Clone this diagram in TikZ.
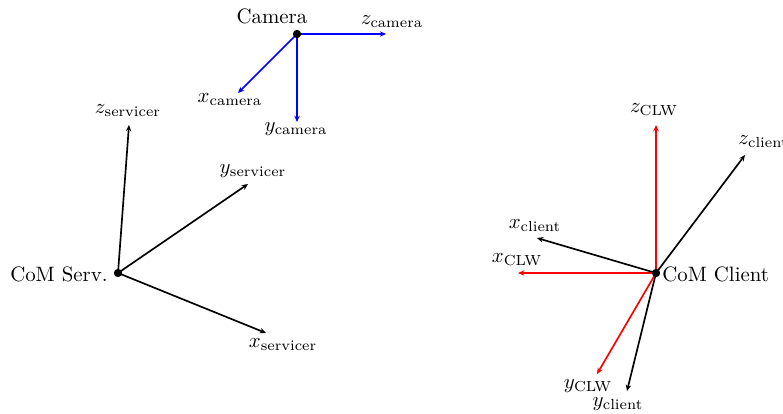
\documentclass[tikz,border=0pt]{standalone}
\usepackage{amsmath}
\usetikzlibrary{arrows.meta}
\begin{document}
\begin{tikzpicture}[x=0.48pt,y=-0.48pt,
  axis/.style={-{Stealth[length=3pt,width=2.6pt]},thick},
  cam/.style={axis,blue},
  clw/.style={axis,red},
  lbl/.style={inner sep=0pt},
  dot/.style={circle,fill=black,inner sep=0pt,minimum size=4pt}]
\useasboundingbox (0,0) rectangle (783,413);
\clip (0,0) rectangle (783,413);
% Camera frame
\coordinate (co) at (297,34);
\coordinate (czt) at (386,34);
\coordinate (cxt) at (238,93);
\coordinate (cyt) at (297,122);
\draw[cam] (co) -- (czt);
\draw[cam] (co) -- (cxt);
\draw[cam] (co) -- (cyt);
\node[dot] (cdot) at (co) {};
\node[lbl] (camlbl) at (272,16) {Camera};
\node[lbl] (czl) at (392,22) {$z_{\text{camera}}$};
\node[lbl] (cxl) at (230,100) {$x_{\text{camera}}$};
\node[lbl] (cyl) at (296,129) {$y_{\text{camera}}$};
% Servicer frame
\coordinate (so) at (118,273);
\coordinate (szt) at (129,125);
\coordinate (syt) at (248,184);
\coordinate (sxt) at (266,333);
\draw[axis] (so) -- (szt);
\draw[axis] (so) -- (syt);
\draw[axis] (so) -- (sxt);
\node[dot] (sdot) at (so) {};
\node[lbl,anchor=east] (serv) at (108,274) {CoM Serv.};
\node[lbl] (szl) at (128,111) {$z_{\text{servicer}}$};
\node[lbl] (syl) at (253,171) {$y_{\text{servicer}}$};
\node[lbl] (sxl) at (283,345) {$x_{\text{servicer}}$};
% Client frame
\coordinate (ko) at (656,273);
\coordinate (kzt) at (745,155);
\coordinate (kxt) at (537,238);
\coordinate (kyt) at (627,391);
\coordinate (wzt) at (656,125);
\coordinate (wxt) at (518,273);
\coordinate (wyt) at (597,374);
\draw[axis] (ko) -- (kzt);
\draw[axis] (ko) -- (kxt);
\draw[axis] (ko) -- (kyt);
\draw[clw] (ko) -- (wzt);
\draw[clw] (ko) -- (wxt);
\draw[clw] (ko) -- (wyt);
\node[dot] (kdot) at (ko) {};
\node[lbl,anchor=west] (cli) at (662,274) {CoM Client};
\node[lbl] (wzl) at (654,110) {$z_{\text{CLW}}$};
\node[lbl,anchor=west] (kzl) at (738,142) {$z_{\text{client}}$};
\node[lbl] (kxl) at (535,226) {$x_{\text{client}}$};
\node[lbl] (wxl) at (517,260) {$x_{\text{CLW}}$};
\node[lbl] (wyl) at (588,386) {$y_{\text{CLW}}$};
\node[lbl] (kyl) at (618,404) {$y_{\text{client}}$};
\end{tikzpicture}
\end{document}
